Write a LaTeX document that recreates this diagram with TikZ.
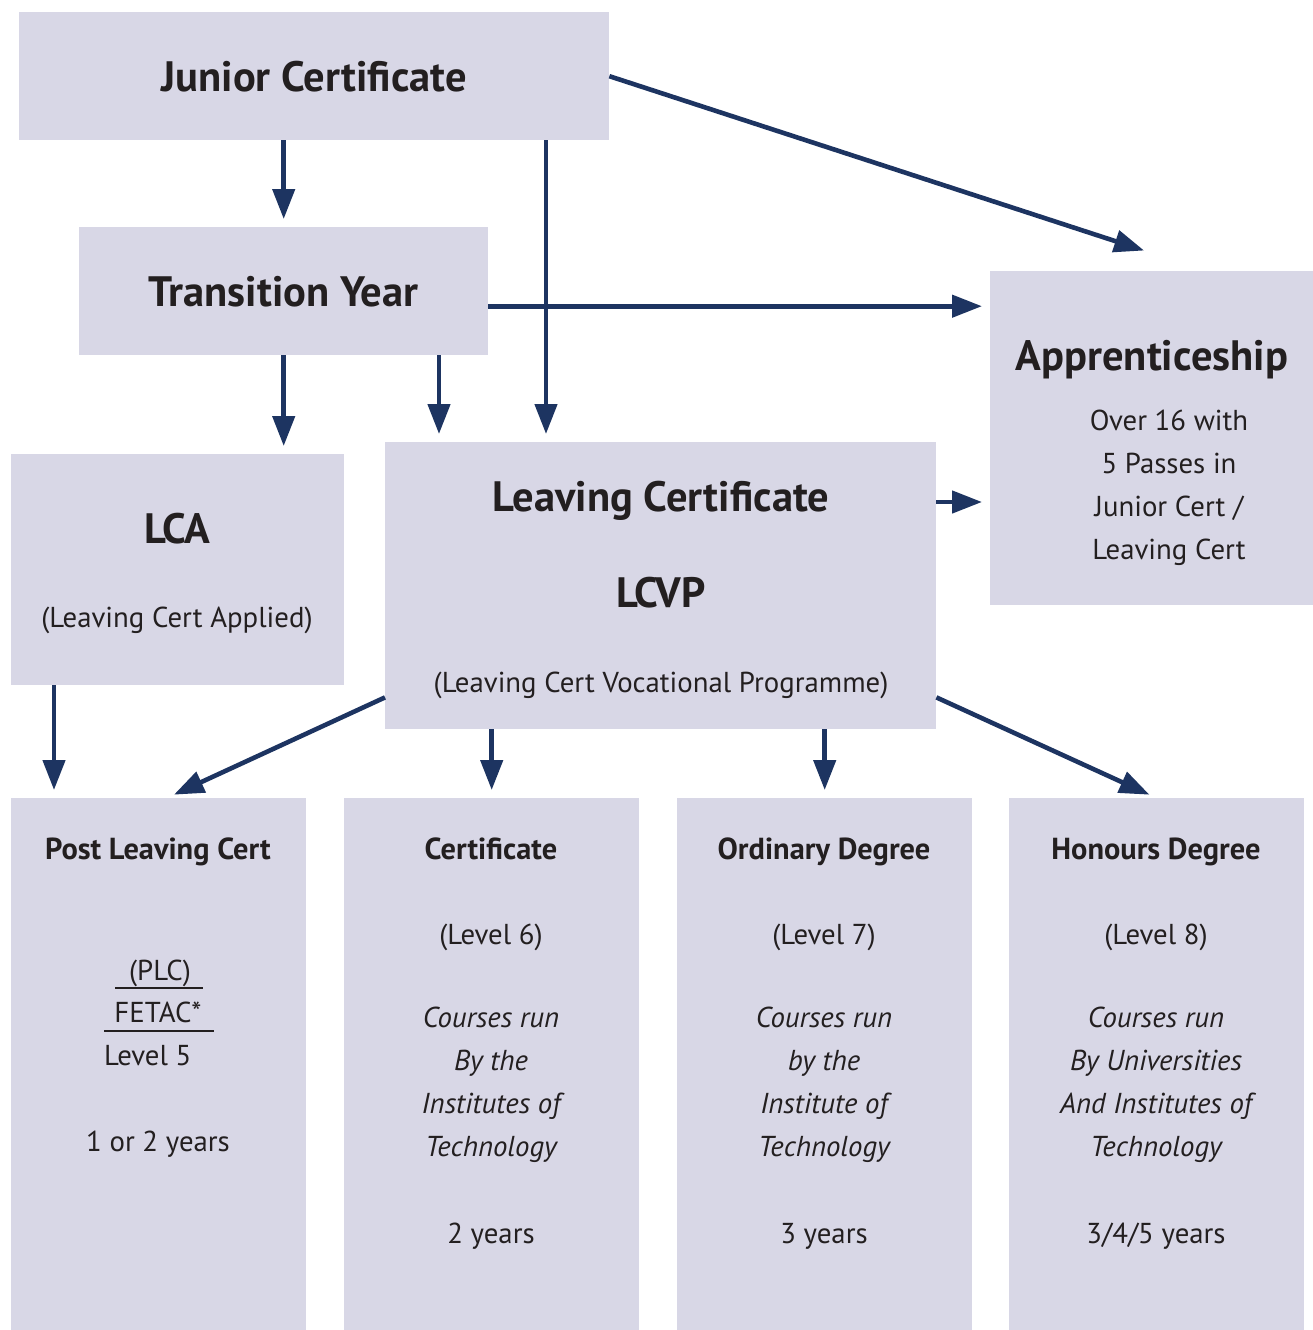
\documentclass[tikz,border=0pt]{standalone}
\usepackage{fontspec}
\setmainfont{PT Sans}
\usetikzlibrary{arrows.meta, positioning}
\definecolor{boxfill}{HTML}{D8D7E6}
\definecolor{pathblue}{HTML}{1D3461}
\definecolor{inkgrey}{HTML}{231F20}
\newcommand{\headfont}{\fontsize{42.5}{50}\selectfont\bfseries}
\newcommand{\subheadfont}{\fontsize{30.4}{36}\selectfont\bfseries}
\newcommand{\plainfont}{\fontsize{28.8}{43}\selectfont}

\begin{document}
\begin{tikzpicture}[
        x=1pt, y=-1pt,
        text=inkgrey,
        box/.style={fill=boxfill, inner sep=0pt, anchor=north west},
        arr/.style={draw=pathblue, line width=4.6pt, shorten >=8pt, -{Triangle[length=30pt, width=22pt]}},
        head/.style={font=\headfont, inner sep=0pt, anchor=base},
        subhead/.style={font=\subheadfont, inner sep=0pt, anchor=base},
        txt/.style={font=\plainfont, inner sep=0pt, anchor=base},
        lines/.style={font=\plainfont, inner sep=0pt, align=center},
        rule/.style={draw=inkgrey, line width=1.4pt}
    ]
    \useasboundingbox (0,0) rectangle (1313,1330);

    % --- Boxes ---
    \node[box, minimum width=590, minimum height=128, font=\headfont] (jc) at (19,12) {Junior Certificate};
    \node[box, minimum width=409, minimum height=128, font=\headfont] (ty) at (79,227) {Transition Year};
    \node[box, minimum width=323, minimum height=334] (app) at (990,271) {};
    \node[box, minimum width=333, minimum height=231] (lca) at (11,454) {};
    \node[box, minimum width=551, minimum height=287] (lc) at (385,442) {};
    \node[box, minimum width=295, minimum height=532] (plc) at (11,798) {};
    \node[box, minimum width=295, minimum height=532] (cert) at (344,798) {};
    \node[box, minimum width=295, minimum height=532] (ord) at (677,798) {};
    \node[box, minimum width=295, minimum height=532] (hon) at (1009,798) {};

    % --- Texts ---
    \node[head] (apptitle) at (1152,370) {Apprenticeship};
    \node[lines] (appnote) at (1169,488) {Over 16 with\\5 Passes in\\Junior Cert /\\Leaving Cert};

    \node[head] (lcatitle) at (177,543) {LCA};
    \node[txt] (lcanote) at (177,627) {(Leaving Cert Applied)};

    \node[head] (lctitle) at (661,511) {Leaving Certificate};
    \node[head] (lcvp) at (661,607) {LCVP};
    \node[txt] (lcvpnote) at (661,692) {(Leaving Cert Vocational Programme)};

    \node[subhead] (plctitle) at (158,859) {Post Leaving Cert};
    \node[txt] (plcabbr) at (160,980) {(PLC)};
    \node[txt] (fetac) at (158,1022) {FETAC*};
    \node[txt, anchor=base west] (level5) at (104,1065) {Level 5};
    \node[txt] (plcyears) at (158,1151) {1 or 2 years};
    \draw[rule] (115,988) -- (203,988);
    \draw[rule] (104,1031) -- (214,1031);

    \node[subhead] (certtitle) at (491,859) {Certificate};
    \node[txt] (certlevel) at (491,944) {(Level 6)};
    \node[lines, font=\plainfont\itshape] (certrun) at (491,1085) {Courses run\\By the\\Institutes of\\Technology};
    \node[txt] (certyears) at (491,1243) {2 years};

    \node[subhead] (ordtitle) at (824,859) {Ordinary Degree};
    \node[txt] (ordlevel) at (824,944) {(Level 7)};
    \node[lines, font=\plainfont\itshape] (ordrun) at (824,1085) {Courses run\\by the\\Institute of\\Technology};
    \node[txt] (ordyears) at (824,1243) {3 years};

    \node[subhead] (hontitle) at (1156,859) {Honours Degree};
    \node[txt] (honlevel) at (1156,944) {(Level 8)};
    \node[lines, font=\plainfont\itshape] (honrun) at (1156,1085) {Courses run\\By Universities\\And Institutes of\\Technology};
    \node[txt] (honyears) at (1156,1243) {3/4/5 years};

    % --- Connections ---
    \coordinate (lcfromjc) at ([xshift=161pt]lc.north west);
    \coordinate (lcfromty) at ([xshift=54pt]lc.north west);
    \coordinate (tyright) at ([yshift=-15pt]ty.east);
    \coordinate (lcright) at ([yshift=-60pt]lc.north east);
    \coordinate (lcleft) at ([yshift=32pt]lc.south west);
    \coordinate (lcrightlow) at ([yshift=32pt]lc.south east);

    \draw[arr] (jc.south -| ty.north) -- (ty.north);
    \draw[arr] (jc.south -| lcfromjc) -- (lcfromjc);
    \draw[arr] (jc.east) -- ([yshift=18pt]app.north);
    \draw[arr] (tyright) -- (app.west |- tyright);
    \draw[arr] (ty.south) -- (ty.south |- lca.north);
    \draw[arr] (ty.south -| lcfromty) -- (lcfromty);
    \draw[arr] (lcright) -- (app.west |- lcright);
    \draw[arr] ([xshift=43pt]lca.south west) -- ([xshift=43pt]plc.north west);
    \draw[arr] (lcleft) -- ([xshift=8pt]plc.north);
    \draw[arr] (lc.south -| cert.north) -- (cert.north);
    \draw[arr] (lc.south -| ord.north) -- (ord.north);
    \draw[arr] (lcrightlow) -- (hon.north);
\end{tikzpicture}
\end{document}
